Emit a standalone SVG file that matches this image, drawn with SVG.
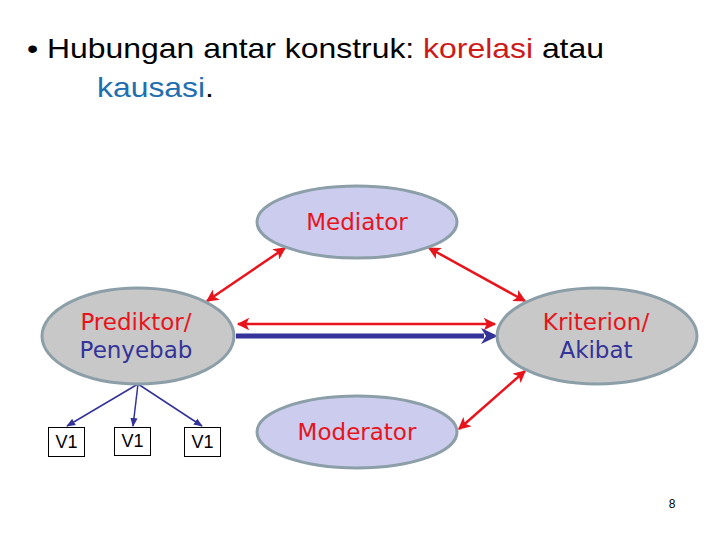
<svg xmlns="http://www.w3.org/2000/svg" width="720" height="540" viewBox="0 0 720 540">
<defs>
<style>
.title{font-family:"Liberation Sans",Arial,sans-serif;font-size:28px;fill:#000}
.lbl{font-family:"DejaVu Sans","Liberation Sans",sans-serif;font-size:23px;text-anchor:middle}
.red{fill:#e8141c}
.blue{fill:#333399}
.ov{fill:#ccccee;stroke:#8c9fa8;stroke-width:3}
.og{fill:#c8c8c8;stroke:#8c9fa8;stroke-width:3}
.box{fill:#fff;stroke:#000;stroke-width:1}
.vt{font-family:"Liberation Sans",Arial,sans-serif;font-size:18px;text-anchor:middle;fill:#000}
.ra{stroke:#e8141c;stroke-width:2.5;fill:none;marker-start:url(#rh);marker-end:url(#rh)}
.ba{stroke:#333399;stroke-width:1.5;fill:none;marker-end:url(#bh)}
</style>
<marker id="rh" viewBox="0 0 10 10" refX="9" refY="5" markerWidth="5" markerHeight="5" orient="auto-start-reverse" markerUnits="strokeWidth">
<path d="M0,0 L10,5 L0,10 L2.5,5 z" fill="#e8141c"/>
</marker>
<marker id="bh" viewBox="0 0 10 10" refX="9" refY="5" markerWidth="6" markerHeight="6" orient="auto" markerUnits="strokeWidth">
<path d="M0,1 L10,5 L0,9 z" fill="#333399"/>
</marker>
</defs>
<rect width="720" height="540" fill="#fff"/>
<text class="title" x="27" y="58" textLength="577" lengthAdjust="spacingAndGlyphs">• Hubungan antar konstruk: <tspan fill="#cc1a1a">korelasi</tspan> atau</text>
<text class="title" x="97" y="97" textLength="117" lengthAdjust="spacingAndGlyphs"><tspan fill="#1f6fb0">kausasi</tspan>.</text>
<g id="connectors">
<line class="ra" x1="285" y1="248" x2="207" y2="301"/>
<line class="ra" x1="429" y1="248" x2="525" y2="301"/>
<line class="ra" x1="238" y1="324" x2="495" y2="324"/>
<line x1="236" y1="336" x2="484" y2="336" stroke="#333399" stroke-width="5"/>
<path d="M481,328 L498,336 L481,344 L486,336 z" fill="#333399"/>
<line class="ra" x1="525" y1="371" x2="459" y2="429"/>
<line class="ba" x1="138" y1="384" x2="67" y2="426"/>
<line class="ba" x1="138" y1="384" x2="133" y2="426"/>
<line class="ba" x1="138" y1="384" x2="202" y2="426"/>
</g>
<g id="mediator">
<ellipse class="ov" cx="357" cy="222" rx="100" ry="36"/>
<text class="lbl red" x="357" y="230">Mediator</text>
</g>
<g id="prediktor">
<ellipse class="og" cx="138" cy="336" rx="96" ry="48"/>
<text class="lbl red" x="136" y="330">Prediktor/</text>
<text class="lbl blue" x="136" y="358">Penyebab</text>
</g>
<g id="kriterion">
<ellipse class="og" cx="597" cy="336" rx="100" ry="48"/>
<text class="lbl red" x="596" y="330">Kriterion/</text>
<text class="lbl blue" x="596" y="358">Akibat</text>
</g>
<g id="moderator">
<ellipse class="ov" cx="357" cy="432" rx="100" ry="36"/>
<text class="lbl red" x="357" y="440">Moderator</text>
</g>
<g id="v1a">
<rect class="box" x="48.5" y="427.5" width="36" height="29"/>
<text class="vt" x="66.5" y="448">V1</text>
</g>
<g id="v1b">
<rect class="box" x="114.5" y="427.5" width="36" height="28"/>
<text class="vt" x="132.5" y="447">V1</text>
</g>
<g id="v1c">
<rect class="box" x="184.5" y="427.5" width="36" height="29"/>
<text class="vt" x="202.5" y="448">V1</text>
</g>
<text x="672" y="508" font-family="Liberation Sans,Arial,sans-serif" font-size="12" text-anchor="middle" fill="#000">8</text>
</svg>
